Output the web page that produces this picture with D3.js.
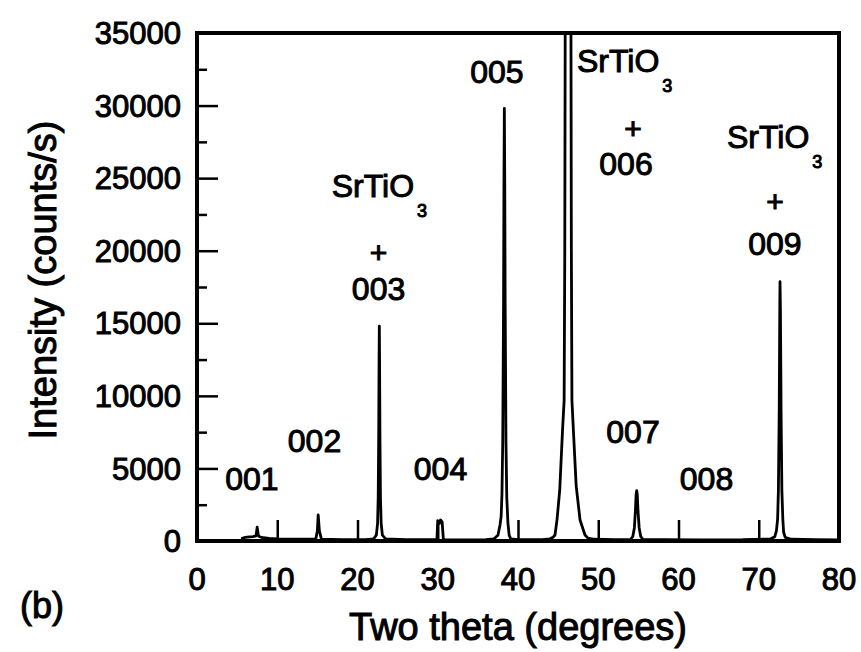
<!DOCTYPE html>
<html><head><meta charset="utf-8">
<script src="https://cdn.jsdelivr.net/npm/d3@7"></script>
<style>
html,body{margin:0;padding:0;background:#fff;}
text{font-family:"Liberation Sans",Arial,Helvetica,sans-serif;fill:#000;stroke:#000;stroke-width:1px;}
</style></head>
<body>
<svg id="chart" width="861" height="652"></svg>
<script>
// ---- data ----
const twoTheta = [5.5,6.0,6.5,7.0,7.35,7.5,7.65,8.0,9.0,10.0,12.0,14.8,15.0,15.1,15.25,15.5,18.0,21.0,
  22.0,22.35,22.5,22.58,22.64,22.69,22.72,22.75,22.8,22.86,22.95,23.1,23.5,26.0,
  29.9,30.0,30.2,30.35,30.55,30.7,33.0,36.0,
  37.0,37.5,37.76,37.9,38.0,38.1,38.2,38.25,38.3,38.35,38.4,38.5,38.6,38.75,38.9,39.1,40.0,43.0,
  44.0,44.36,44.61,44.86,45.2,45.55,45.75,45.83,45.88,46.23,46.6,46.65,46.72,46.9,47.25,47.73,48.35,48.72,49.5,
  52.0,54.0,54.3,54.5,54.62,54.72,54.79,54.86,54.96,55.1,55.3,55.6,58.0,63.0,68.0,
  71.5,72.0,72.2,72.35,72.45,72.55,72.62,72.65,72.7,72.78,72.88,73.0,73.1,73.3,74.0,77.0,80.0];
const intensity = [150,250,280,300,350,950,350,250,180,150,120,140,700,1800,700,130,100,100,
  150,400,1200,3000,7000,12500,14800,12500,7000,3000,1200,400,150,90,
  100,1400,1200,1450,1300,100,80,100,
  150,400,1100,1700,3200,6900,16300,24700,29800,24700,16300,6900,3000,1200,400,150,100,100,
  150,250,413,1450,3500,7650,9700,20000,35000,90000,35000,20000,9700,7650,3800,1450,413,200,120,
  90,100,300,900,2000,3200,3465,3200,2000,900,300,100,90,80,90,
  150,300,700,1500,3500,9000,16000,17865,16000,9000,3500,1500,600,250,120,90,80];

const xTicks = [0,10,20,30,40,50,60,70,80];
const yTicks = [0,5000,10000,15000,20000,25000,30000,35000];
const yMinorTicks = [2500,7500,12500,17500,22500,27500,32500];

// annotation labels: [text, 2θ, intensity]
const hklLabels = [["001",6.85,3514],["002",14.64,6132],["004",30.34,4203],["007",54.33,6752],
  ["008",63.49,3514],["005",37.38,31555],["003",22.62,16604],["006",53.46,25217],["009",72.02,19705]];
const plusLabels = [[22.62,19911],[54.33,28386],[72.02,23425]];
const substrateLabels = [[16.78,23700],[47.35,32313],[66.04,27077]];

// ---- layout ----
const svg = d3.select("#chart");
const L = 197, R = 839, T = 33, B = 541;
const x = d3.scaleLinear().domain([0,80]).range([L,R]);
const y = d3.scaleLinear().domain([0,35000]).range([B,T]);

svg.append("defs").append("clipPath").attr("id","clip")
  .append("rect").attr("x",L).attr("y",T).attr("width",R-L).attr("height",B-T);

// curve
const pts = twoTheta.map((t,i)=>[t,intensity[i]]);
svg.append("path").datum(pts)
  .attr("clip-path","url(#clip)")
  .attr("fill","none").attr("stroke","#000").attr("stroke-width",2.8)
  .attr("stroke-linejoin","round")
  .attr("d", d3.line().x(d=>x(d[0])).y(d=>y(d[1])));

// inward ticks
const xAxis = d3.axisBottom(x).tickValues(xTicks.slice(1,-1)).tickSize(-21).tickFormat("");
svg.append("g").attr("transform",`translate(0,${B})`).call(xAxis)
  .call(g=>{g.select(".domain").remove(); g.selectAll("line").attr("stroke","#000").attr("stroke-width",2.5);});
const yAxis = d3.axisLeft(y).tickValues(yTicks.slice(1,-1)).tickSize(-21).tickFormat("");
svg.append("g").attr("transform",`translate(${L},0)`).call(yAxis)
  .call(g=>{g.select(".domain").remove(); g.selectAll("line").attr("stroke","#000").attr("stroke-width",2.5);});
const yAxisMinor = d3.axisLeft(y).tickValues(yMinorTicks).tickSize(-10).tickFormat("");
svg.append("g").attr("transform",`translate(${L},0)`).call(yAxisMinor)
  .call(g=>{g.select(".domain").remove(); g.selectAll("line").attr("stroke","#000").attr("stroke-width",2.5);});

// frame
svg.append("rect").attr("x",L).attr("y",T).attr("width",R-L).attr("height",B-T)
  .attr("fill","none").attr("stroke","#000").attr("stroke-width",4);

// tick labels
svg.append("g").selectAll("text").data(xTicks).join("text")
  .attr("x",d=>x(d)).attr("y",590).attr("text-anchor","middle")
  .attr("font-size",31).text(d=>d);
svg.append("g").selectAll("text").data(yTicks).join("text")
  .attr("x",181).attr("y",d=>y(d)).attr("dy","0.36em").attr("text-anchor","end")
  .attr("font-size",31).text(d=>d);

// axis titles
svg.append("text").attr("x",518).attr("y",640).attr("text-anchor","middle")
  .attr("font-size",38).text("Two theta (degrees)");
svg.append("text").attr("transform","translate(56,280) rotate(-90)").attr("text-anchor","middle")
  .attr("font-size",38).text("Intensity (counts/s)");
svg.append("text").attr("x",20).attr("y",618).attr("font-size",36).text("(b)");

// annotations
svg.append("g").selectAll("text").data(hklLabels).join("text")
  .attr("x",d=>x(d[1])).attr("y",d=>y(d[2])).attr("text-anchor","middle")
  .attr("font-size",32).text(d=>d[0]);
svg.append("g").selectAll("text").data(plusLabels).join("text")
  .attr("x",d=>x(d[0])).attr("y",d=>y(d[1])).attr("dy","0.35em").attr("text-anchor","middle")
  .attr("font-size",30).text("+");
const sub = svg.append("g").selectAll("text").data(substrateLabels).join("text")
  .attr("x",d=>x(d[0])).attr("y",d=>y(d[1])).attr("font-size",32);
sub.append("tspan").text("SrTiO");
sub.append("tspan").attr("dx",3).attr("dy",20).attr("font-size",18).text("3");
</script>
</body></html>
